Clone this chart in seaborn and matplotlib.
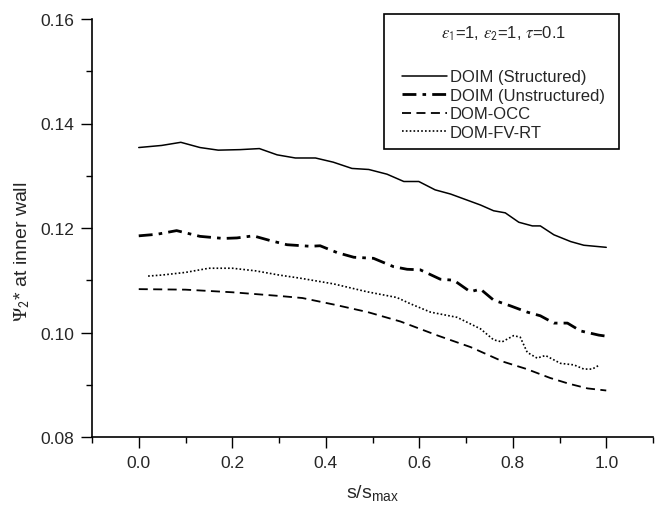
import matplotlib
matplotlib.use("Agg")
import matplotlib.pyplot as plt
import seaborn as sns
import pandas as pd
from matplotlib.ticker import MultipleLocator
from matplotlib.patches import Rectangle

# ---- data ----
x_struct = [0.0, 0.049, 0.090, 0.131, 0.170, 0.217, 0.258, 0.296, 0.335, 0.378, 0.416,
            0.456, 0.492, 0.531, 0.567, 0.599, 0.634, 0.667, 0.731, 0.759, 0.784, 0.813,
            0.842, 0.859, 0.888, 0.924, 0.952, 1.0]
y_struct = [0.1354, 0.1358, 0.1364, 0.1354, 0.1349, 0.1350, 0.1352, 0.1340, 0.1334, 0.1334,
            0.1326, 0.1314, 0.1312, 0.1303, 0.1289, 0.1289, 0.1273, 0.1265, 0.1244, 0.1233,
            0.1229, 0.1211, 0.1204, 0.1204, 0.1187, 0.1174, 0.1167, 0.1163]

x_unstr = [0.0, 0.039, 0.081, 0.131, 0.181, 0.210, 0.245, 0.281, 0.317, 0.367, 0.388, 0.424,
           0.460, 0.502, 0.545, 0.574, 0.602, 0.645, 0.674, 0.709, 0.731, 0.759, 0.795, 0.831,
           0.859, 0.888, 0.917, 0.945, 0.984, 1.0]
y_unstr = [0.1185, 0.1188, 0.1195, 0.1184, 0.1180, 0.1181, 0.1185, 0.1176, 0.1168, 0.1165,
           0.1166, 0.1153, 0.1144, 0.1142, 0.1126, 0.1121, 0.1120, 0.1102, 0.1100, 0.1078,
           0.1083, 0.1062, 0.1051, 0.1039, 0.1032, 0.1018, 0.1018, 0.1003, 0.0995, 0.0993]

x_occ = [0.0, 0.1, 0.2, 0.3, 0.35, 0.42, 0.49, 0.56, 0.64, 0.71, 0.78, 0.83, 0.88, 0.92,
         0.96, 1.0]
y_occ = [0.1083, 0.1082, 0.1077, 0.1070, 0.1066, 0.1053, 0.1039, 0.1021, 0.0994, 0.0972,
         0.0944, 0.0930, 0.0913, 0.0902, 0.0893, 0.0889]

x_fvrt = [0.02, 0.05, 0.10, 0.15, 0.20, 0.25, 0.30, 0.345, 0.417, 0.488, 0.552, 0.581, 0.624,
          0.681, 0.731, 0.759, 0.777, 0.802, 0.816, 0.831, 0.852, 0.870, 0.902, 0.931, 0.952,
          0.970, 0.986]
y_fvrt = [0.1108, 0.1110, 0.1115, 0.1123, 0.1123, 0.1118, 0.1110, 0.1104, 0.1093, 0.1078,
          0.1067, 0.1055, 0.1039, 0.1029, 0.1007, 0.0986, 0.0982, 0.0994, 0.0991, 0.0962,
          0.0951, 0.0956, 0.0941, 0.0938, 0.0930, 0.0930, 0.0938]

labels = ["DOIM (Structured)", "DOIM (Unstructured)", "DOM-OCC", "DOM-FV-RT"]
legend_title = r"$\varepsilon_\mathsf{1}$=1, $\varepsilon_\mathsf{2}$=1, $\tau$=0.1"
x_ticks = [0.0, 0.2, 0.4, 0.6, 0.8, 1.0]
y_ticks = [0.08, 0.10, 0.12, 0.14, 0.16]

# ---- style ----
sns.set_style("ticks")
plt.rcParams["font.family"] = ["Liberation Sans", "DejaVu Sans"]
plt.rcParams["mathtext.fontset"] = "stix"

W, H = 659, 506
fig = plt.figure(figsize=(W / 100, H / 100), dpi=100)
ax = fig.add_axes([92 / W, 1 - 438 / H, 561 / W, 418 / H])

series = [
    (x_struct, y_struct, labels[0], dict(lw=1.1, linestyle="-")),
    (x_unstr, y_unstr, labels[1], dict(lw=2.0, dashes=(5, 2.2, 1.3, 2.2))),
    (x_occ, y_occ, labels[2], dict(lw=1.3, dashes=(5, 3))),
    (x_fvrt, y_fvrt, labels[3], dict(lw=1.2, dashes=(1, 1.3))),
]
for xs, ys, lab, st in series:
    df = pd.DataFrame({"x": xs, "y": ys})
    dashes = st.pop("dashes", None)
    sns.lineplot(data=df, x="x", y="y", ax=ax, color="black", label=lab, **st)
    if dashes is not None:
        ax.lines[-1].set_dashes(dashes)

ax.set_xlim(-0.1, 1.1)
ax.set_ylim(0.08, 0.16)
ax.set_xticks(x_ticks)
ax.set_xticklabels([f"{v:.1f}" for v in x_ticks])
ax.set_yticks(y_ticks)
ax.set_yticklabels([f"{v:.2f}" for v in y_ticks])
ax.xaxis.set_minor_locator(MultipleLocator(0.1))
ax.yaxis.set_minor_locator(MultipleLocator(0.01))
ax.tick_params(which="major", direction="out", length=8, width=1, labelsize=12.5, pad=5, color="black")
ax.tick_params(which="minor", direction="out", length=4, width=1, color="black")
ax.tick_params(axis="y", which="major", pad=5)
for s in ["top", "right"]:
    ax.spines[s].set_visible(False)
for s in ["left", "bottom"]:
    ax.spines[s].set_linewidth(1.2)
    ax.spines[s].set_color("black")

plt.rcParams["mathtext.rm"] = "Liberation Sans"
xl = ax.set_xlabel(r"s/s$_{\mathrm{max}}$", fontsize=14, labelpad=9)
xl.get_fontproperties().set_math_fontfamily("custom")
ax.set_ylabel(r"$\Psi_\mathsf{2}$* at inner wall", fontsize=14)
ax.yaxis.set_label_coords(-0.107, 0.445)

# legend (frame drawn separately so the box can be wider than the content)
handles, labs = ax.get_legend_handles_labels()
leg = ax.legend(handles, labs, title=legend_title, loc="upper left",
                bbox_to_anchor=(402 / W, 1 - 25 / H), bbox_transform=fig.transFigure,
                borderaxespad=0, borderpad=0, fontsize=12, title_fontsize=12,
                frameon=False, handlelength=2.7, handletextpad=0.15, labelspacing=0.21)
leg._legend_box.sep = 19.5
fig.add_artist(Rectangle((384 / W, 1 - 150 / H), 235 / W, 135 / H,
                         transform=fig.transFigure, fill=False, edgecolor="black", lw=1.2))

fig.savefig("out.png", dpi=100)
